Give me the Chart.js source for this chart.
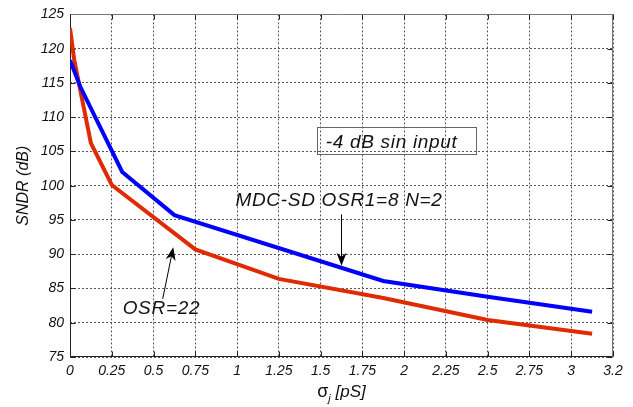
<!DOCTYPE html>
<html>
<head>
<meta charset="utf-8">
<script src="https://cdn.jsdelivr.net/npm/chart.js@4/dist/chart.umd.min.js"></script>
<style>
  html, body { margin: 0; padding: 0; background: #ffffff; }
  #wrap { width: 633px; height: 407px; position: relative; }
</style>
</head>
<body>
<div id="wrap"><canvas id="c"></canvas></div>
<script>
// Clock jitter sweep: SNDR of the two modulators versus jitter sigma (pS)
const sigmaMdc = [0, 0.0625, 0.3125, 0.625, 1.875, 2.5, 3.125];
const sndrMdc  = [118.3, 114.4, 102.0, 95.7, 86.1, 83.8, 81.6];

const sigmaOsr22 = [0, 0.025, 0.125, 0.25, 0.75, 1.25, 1.875, 2.5, 3.125];
const sndrOsr22  = [123.0, 118.4, 106.2, 100.1, 90.7, 86.4, 83.6, 80.4, 78.4];

// Axis ranges and tick steps
const xRange = [0, 3.25];
const xStep = 0.25;
const yRange = [75, 125];
const yStep = 5;

// Text notes, placed in data units
const inputNote = { text: '-4 dB sin input', x: 1.53, y: 106.2, box: [1.478, 108.5, 2.428, 104.55] };
const mdcNote   = { text: 'MDC-SD OSR1=8 N=2', x: 0.99, y: 97.75 };
const osrNote   = { text: 'OSR=22', x: 0.315, y: 82.05 };
const mdcArrow  = { from: [1.625, 95.8], to: [1.625, 88.3] };
const osrArrow  = { from: [0.555, 83.5], to: [0.618, 91.0] };

const FONT = '"Liberation Sans", Arial, Helvetica, sans-serif';

function toPx(chart, p) {
  return [chart.scales.x.getPixelForValue(p[0]), chart.scales.y.getPixelForValue(p[1])];
}

function drawArrow(ctx, a, b) {
  const ang = Math.atan2(b[1] - a[1], b[0] - a[0]);
  const L = 13, W = 5, N = 4;
  ctx.save();
  ctx.strokeStyle = '#000';
  ctx.fillStyle = '#000';
  ctx.lineWidth = 1;
  ctx.beginPath();
  ctx.moveTo(a[0], a[1]);
  ctx.lineTo(b[0] - Math.cos(ang) * (L - N), b[1] - Math.sin(ang) * (L - N));
  ctx.stroke();
  ctx.translate(b[0], b[1]);
  ctx.rotate(ang);
  ctx.beginPath();
  ctx.moveTo(0, 0);
  ctx.lineTo(-L, -W);
  ctx.lineTo(-L + N, 0);
  ctx.lineTo(-L, W);
  ctx.closePath();
  ctx.fill();
  ctx.restore();
}

const framePlugin = {
  id: 'framePlugin',
  beforeDatasetsDraw(chart) {
    const { ctx, chartArea: ca, scales } = chart;
    const l = Math.round(ca.left) + 0.5, r = Math.round(ca.right) - 0.5;
    const t = Math.round(ca.top) + 0.5, b = Math.round(ca.bottom) - 0.5;
    ctx.save();
    ctx.lineWidth = 1;
    // inward tick marks on all four sides
    ctx.strokeStyle = '#222';
    ctx.beginPath();
    scales.x.ticks.forEach(tk => {
      const px = Math.round(scales.x.getPixelForValue(tk.value)) + 0.5;
      ctx.moveTo(px, b); ctx.lineTo(px, b - 5);
      ctx.moveTo(px, t); ctx.lineTo(px, t + 5);
    });
    scales.y.ticks.forEach(tk => {
      const py = Math.round(scales.y.getPixelForValue(tk.value)) + 0.5;
      ctx.moveTo(l, py); ctx.lineTo(l + 5, py);
      ctx.moveTo(r, py); ctx.lineTo(r - 5, py);
    });
    ctx.stroke();
    // box: top and right lighter, left and bottom dark
    ctx.strokeStyle = '#777';
    ctx.beginPath();
    ctx.moveTo(l, t); ctx.lineTo(r, t); ctx.lineTo(r, b);
    ctx.stroke();
    ctx.strokeStyle = '#222';
    ctx.beginPath();
    ctx.moveTo(l, t); ctx.lineTo(l, b); ctx.lineTo(r, b);
    ctx.stroke();
    ctx.restore();
  },
  afterDraw(chart) {
    const { ctx, chartArea: ca } = chart;
    ctx.save();
    ctx.fillStyle = '#111';
    ctx.textBaseline = 'middle';
    ctx.textAlign = 'left';
    ctx.font = 'italic 19px ' + FONT;
    ctx.letterSpacing = '0.7px';

    // boxed note
    const b0 = toPx(chart, [inputNote.box[0], inputNote.box[1]]);
    const b1 = toPx(chart, [inputNote.box[2], inputNote.box[3]]);
    ctx.strokeStyle = '#666';
    ctx.lineWidth = 1;
    ctx.strokeRect(Math.round(b0[0]) + 0.5, Math.round(b0[1]) + 0.5,
                   Math.round(b1[0] - b0[0]), Math.round(b1[1] - b0[1]));
    let p = toPx(chart, [inputNote.x, inputNote.y]);
    ctx.fillText(inputNote.text, p[0], p[1]);

    p = toPx(chart, [mdcNote.x, mdcNote.y]);
    ctx.fillText(mdcNote.text, p[0], p[1]);
    p = toPx(chart, [osrNote.x, osrNote.y]);
    ctx.fillText(osrNote.text, p[0], p[1]);
    ctx.letterSpacing = '0px';

    drawArrow(ctx, toPx(chart, mdcArrow.from), toPx(chart, mdcArrow.to));
    drawArrow(ctx, toPx(chart, osrArrow.from), toPx(chart, osrArrow.to));

    // y-axis title
    ctx.save();
    ctx.translate(24, (ca.top + ca.bottom) / 2);
    ctx.rotate(-Math.PI / 2);
    ctx.textAlign = 'center';
    ctx.font = 'italic 16px ' + FONT;
    ctx.fillText('SNDR (dB)', 0, 0);
    ctx.restore();

    // x-axis title: sigma with subscript j, then the unit
    const cx = (ca.left + ca.right) / 2;
    const ty = 392.5;
    const part1 = '\u03C3', part2 = 'j', part3 = ' [pS]';
    ctx.font = '18px ' + FONT;
    const w1 = ctx.measureText(part1).width;
    ctx.font = 'italic 11px ' + FONT;
    const w2 = ctx.measureText(part2).width;
    ctx.font = 'italic 17px ' + FONT;
    const w3 = ctx.measureText(part3).width;
    let sx = cx - (w1 + w2 + w3) / 2;
    ctx.font = '18px ' + FONT;
    ctx.fillText(part1, sx, ty);
    sx += w1;
    ctx.font = 'italic 11px ' + FONT;
    ctx.fillText(part2, sx, ty + 6);
    sx += w2;
    ctx.font = 'italic 17px ' + FONT;
    ctx.fillText(part3, sx, ty);
    ctx.restore();
  }
};

function pts(xs, ys) { return xs.map((x, i) => ({ x: x, y: ys[i] })); }

function xLabel(v) {
  if (Math.abs(v - 3.25) < 1e-9) return '3.2';
  return String(+v.toFixed(2));
}

new Chart(document.getElementById('c'), {
  type: 'line',
  data: {
    datasets: [
      {
        label: 'MDC-SD OSR1=8 N=2',
        data: pts(sigmaMdc, sndrMdc),
        borderColor: '#0000ff',
        borderWidth: 4,
        pointRadius: 0,
        tension: 0,
        fill: false
      },
      {
        label: 'OSR=22',
        data: pts(sigmaOsr22, sndrOsr22),
        borderColor: '#e02a00',
        borderWidth: 4,
        pointRadius: 0,
        tension: 0,
        fill: false
      }
    ]
  },
  options: {
    responsive: true,
    maintainAspectRatio: false,
    animation: false,
    events: [],
    layout: { padding: { left: 0, top: 12, right: 20, bottom: 0 } },
    plugins: { legend: { display: false }, tooltip: { enabled: false } },
    scales: {
      x: {
        type: 'linear',
        min: xRange[0],
        max: xRange[1],
        afterFit: s => { s.height = 50; },
        ticks: {
          stepSize: xStep,
          autoSkip: false,
          maxRotation: 0,
          padding: 6,
          color: '#111',
          font: { family: FONT, size: 14, style: 'italic' },
          callback: v => xLabel(v)
        },
        grid: { color: '#555', lineWidth: 1, drawTicks: false },
        border: { display: false, dash: [2, 2] }
      },
      y: {
        type: 'linear',
        min: yRange[0],
        max: yRange[1],
        afterFit: s => { s.width = 70; },
        ticks: {
          stepSize: yStep,
          padding: 6,
          color: '#111',
          font: { family: FONT, size: 14, style: 'italic' },
          callback: v => String(v)
        },
        grid: { color: '#555', lineWidth: 1, drawTicks: false },
        border: { display: false, dash: [2, 2] }
      }
    }
  },
  plugins: [framePlugin]
});
</script>
</body>
</html>
